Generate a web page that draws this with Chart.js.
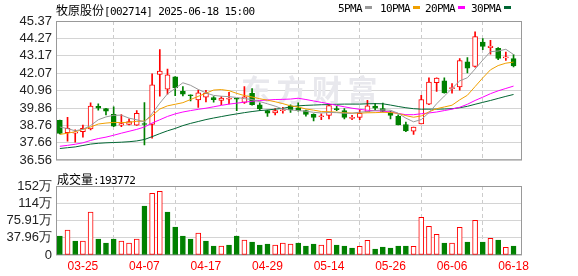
<!DOCTYPE html>
<html>
<head>
<meta charset="utf-8">
<script src="https://cdn.jsdelivr.net/npm/chart.js@4.4.1/dist/chart.umd.min.js"></script>
<style>
  body { margin: 0; background: #fff; }
  #wrap { position: relative; width: 578px; height: 276px; overflow: hidden; background: #fff; }
  canvas { position: absolute; left: 0; }
  .t { position: absolute; white-space: nowrap; font: 11px "DejaVu Sans Mono"; letter-spacing: -0.6px; color: #000; line-height: 14px; }
  .cj { font: 12px "Noto Sans CJK SC"; letter-spacing: 0; }
  .sw { display: inline-block; width: 7px; height: 3px; vertical-align: 3px; margin-left: 3px; }
</style>
</head>
<body>
<div id="wrap">
  <canvas id="priceChart" width="578" height="172" style="top:0"></canvas>
  <canvas id="volChart" width="578" height="104" style="top:172px"></canvas>
  <div class="t" style="left:56px;top:1px"><span class="cj">牧原股份</span>[002714] 2025-06-18 15:00</div>
  <div class="t" style="left:338px;top:2px">5PMA<span class="sw" style="background:#999999"></span></div>
  <div class="t" style="left:380px;top:2px">10PMA<span class="sw" style="background:#f0a000"></span></div>
  <div class="t" style="left:425px;top:2px">20PMA<span class="sw" style="background:#ff00ff"></span></div>
  <div class="t" style="left:471px;top:2px">30PMA<span class="sw" style="background:#006633"></span></div>
  <div class="t" style="left:57px;top:170px"><span class="cj">成交量</span>:193772</div>
</div>
<script>
// trading days shown on the chart
var dates = ['03-20','03-21','03-24','03-25','03-26','03-27','03-28','03-31','04-01','04-02',
  '04-03','04-07','04-08','04-09','04-10','04-11','04-14','04-15','04-16','04-17',
  '04-18','04-21','04-22','04-23','04-24','04-25','04-28','04-29','04-30','05-06',
  '05-07','05-08','05-09','05-12','05-13','05-14','05-15','05-16','05-19','05-20',
  '05-21','05-22','05-23','05-26','05-27','05-28','05-29','05-30','06-03','06-04',
  '06-05','06-06','06-09','06-10','06-11','06-12','06-13','06-16','06-17','06-18'];

var openP = [39.09,38.30,38.27,38.36,38.54,39.97,39.82,39.47,38.78,38.83,
  38.77,38.88,38.83,41.99,41.06,41.83,40.92,40.68,40.37,40.55,
  40.53,40.34,40.42,40.46,40.22,40.80,40.07,39.70,39.55,39.69,
  40.00,39.88,39.70,39.46,39.31,39.40,39.80,39.70,39.21,39.27,
  39.62,39.99,39.82,39.62,39.33,38.82,38.40,38.86,40.10,41.47,
  41.58,41.09,41.19,42.79,42.49,44.03,43.68,43.64,43.04,42.99];
var highP = [39.10,39.27,38.48,38.79,40.19,40.13,39.84,39.94,39.44,39.18,
  39.70,40.21,42.02,43.56,42.32,41.86,41.22,40.69,41.00,40.98,
  40.58,40.58,40.85,40.47,41.22,41.10,40.19,39.73,39.82,39.91,
  40.07,40.19,39.73,39.49,39.49,40.10,39.97,39.82,39.40,39.76,
  40.35,40.16,40.17,39.67,39.43,38.97,38.66,40.66,41.77,41.78,
  41.77,41.41,42.99,43.05,44.68,44.25,44.15,43.69,43.40,43.24];
var lowP = [38.22,37.77,37.70,38.02,38.48,39.73,39.43,38.68,38.69,38.79,
  38.76,37.52,37.95,40.61,40.74,40.65,40.63,40.31,39.90,40.25,
  40.23,40.07,40.12,39.70,40.16,40.04,39.70,39.33,39.43,39.53,
  39.58,39.67,39.35,39.05,39.12,39.18,39.70,39.17,39.12,39.12,
  39.61,39.70,39.61,39.17,38.79,38.36,38.19,38.85,40.08,40.92,
  40.80,40.80,41.00,42.08,42.45,43.56,43.27,42.93,42.87,42.47];
var closeP = [38.25,38.58,38.30,38.57,39.99,39.85,39.66,38.72,38.88,39.01,
  39.52,38.82,41.33,42.20,41.96,41.13,40.74,40.64,40.82,40.80,
  40.39,40.49,40.46,40.42,40.57,40.07,39.80,39.53,39.70,39.72,
  39.74,39.70,39.46,39.27,39.35,40.01,39.76,39.27,39.24,39.52,
  40.00,39.85,39.64,39.40,38.80,38.42,38.65,40.40,41.51,41.76,
  40.82,41.13,42.87,42.38,44.38,43.76,43.78,43.00,43.08,42.53];

var ma5 = [38.66,38.56,38.42,38.52,38.75,39.12,39.30,39.40,39.41,39.22,
  39.12,38.98,39.51,40.17,40.76,41.10,41.46,41.30,41.04,40.82,
  40.66,40.61,40.58,40.53,40.46,40.40,40.27,40.13,39.98,39.80,
  39.74,39.70,39.66,39.59,39.55,39.58,39.57,39.53,39.53,39.60,
  39.64,39.70,39.75,39.72,39.53,39.22,38.99,39.13,39.57,40.13,
  40.62,41.10,41.58,41.78,42.33,42.90,43.43,43.47,43.58,43.25];
var ma10 = [38.19,38.27,38.36,38.51,38.66,38.85,38.91,38.95,38.94,38.96,
  39.02,39.04,39.38,39.80,40.00,40.10,40.20,40.40,40.60,40.80,
  41.00,41.03,40.96,40.79,40.65,40.56,40.45,40.36,40.26,40.14,
  40.00,39.93,39.80,39.73,39.64,39.63,39.60,39.57,39.54,39.54,
  39.56,39.57,39.59,39.58,39.52,39.38,39.28,39.36,39.62,39.82,
  39.93,40.04,40.38,40.67,41.22,41.77,42.28,42.55,42.70,42.77];
var ma20 = [37.44,37.50,37.57,37.66,37.81,37.93,38.02,38.14,38.27,38.39,
  38.51,38.66,38.91,39.12,39.33,39.49,39.61,39.70,39.78,39.85,
  39.94,40.03,40.11,40.17,40.23,40.29,40.34,40.37,40.40,40.41,
  40.43,40.48,40.40,40.31,40.22,40.13,40.03,39.94,39.85,39.78,
  39.72,39.69,39.67,39.61,39.52,39.44,39.44,39.50,39.55,39.61,
  39.70,39.79,39.91,40.10,40.34,40.55,40.77,40.95,41.10,41.25];
var ma30 = [37.30,37.35,37.40,37.49,37.58,37.63,37.66,37.68,37.70,37.73,
  37.78,37.87,38.05,38.24,38.42,38.57,38.75,38.89,39.01,39.13,
  39.23,39.32,39.41,39.49,39.57,39.64,39.70,39.74,39.79,39.84,
  39.94,40.00,40.03,40.05,40.07,40.08,40.10,40.11,40.11,40.11,
  40.13,40.14,40.13,40.05,39.96,39.88,39.82,39.79,39.79,39.79,
  39.80,39.82,39.88,39.97,40.10,40.22,40.34,40.47,40.60,40.72];

// volume in 万手
var volume = [41.8,55,30.8,30.8,94.6,35.2,26.4,35.2,30.8,26.4,
  35.2,107.8,135.7,140,94.6,61.6,41.8,35.2,48.4,30.8,
  19.8,19.8,22,41.8,33,28.6,22,24.2,22,26.4,
  24.2,26.4,19.8,24.2,22,34.5,22,19.8,15.4,19,
  32.3,13.2,17.6,15.4,19.8,19.8,19,83,63,45.5,
  26.4,26.4,61,28.6,76.3,28.6,36.7,33,17,19.38];

var priceTicks = [36.56, 37.66, 38.76, 39.86, 40.96, 42.07, 43.17, 44.27, 45.37];
var volTicks = [0, 37.96, 75.92, 113.88, 151.84];
var volLabels = ['0', '37.96万', '75.91万', '114万', '152万'];
var dateTickIdx = [3, 11, 19, 27, 35, 43, 51, 59];

var RED = '#ff0000', GREEN = '#008000';

var candleUp = openP.map(function(o, i) { return closeP[i] >= o; });
var volUp = closeP.map(function(c, i) { return i === 0 ? candleUp[0] : c >= closeP[i - 1]; });

// plot frame
var framePlugin = {
  id: 'frame',
  beforeDatasetsDraw: function(chart) {
    var a = chart.chartArea, ctx = chart.ctx;
    ctx.save();
    ctx.strokeStyle = '#999';
    ctx.lineWidth = 1;
    ctx.strokeRect(a.left + 0.5, a.top + 0.5, a.right - a.left - 1, a.bottom - a.top - 1);
    ctx.restore();
  }
};

// faint watermark behind the candles
var watermarkPlugin = {
  id: 'watermark',
  beforeDatasetsDraw: function(chart) {
    var ctx = chart.ctx;
    ctx.save();
    ctx.fillStyle = '#e8e8ed';
    ctx.font = 'bold 30px "Noto Sans CJK SC"';
    ctx.textBaseline = 'middle';
    ['东', '方', '财', '富'].forEach(function(ch, k) {
      ctx.fillText(ch, 241 + k * 35.5, 90);
    });
    ctx.restore();
  }
};

function maLine(arr, color) {
  return {
    type: 'line',
    data: arr.map(function(v, i) { return {x: i, y: v}; }),
    borderColor: color,
    borderWidth: 1,
    pointRadius: 0,
    fill: false,
    tension: 0
  };
}

function xScale(showLabels, height) {
  return {
    type: 'linear',
    min: -0.5,
    max: 60.1,
    offset: false,
    afterBuildTicks: function(s) { s.ticks = dateTickIdx.map(function(v) { return {value: v}; }); },
    afterFit: function(s) { s.height = height; },
    grid: { color: '#cccccc', drawTicks: false, borderDash: [4, 3] },
    border: { display: false, dash: [4, 3] },
    ticks: {
      display: showLabels,
      autoSkip: false,
      maxRotation: 0,
      padding: 4,
      color: RED,
      font: { family: 'Liberation Sans', size: 12 },
      callback: function(v) { return dates[v]; }
    }
  };
}

function yScale(min, max, tickVals, labelFn) {
  return {
    type: 'linear',
    min: min,
    max: max,
    afterBuildTicks: function(s) { s.ticks = tickVals.map(function(v) { return {value: v}; }); },
    afterFit: function(s) { s.width = 56; },
    grid: { color: '#d4d4d4', drawTicks: false },
    border: { display: false },
    ticks: {
      autoSkip: false,
      padding: 4,
      color: '#222',
      font: { family: 'Liberation Sans', size: 13 },
      callback: labelFn
    }
  };
}

new Chart(document.getElementById('priceChart'), {
  type: 'bar',
  data: {
    datasets: [
      maLine(ma5, '#999999'),
      maLine(ma10, '#f0a000'),
      maLine(ma20, '#ff00ff'),
      maLine(ma30, '#006633'),
      {
        type: 'bar',
        data: openP.map(function(o, i) { return {x: i, y: [Math.min(o, closeP[i]), Math.max(o, closeP[i])]}; }),
        grouped: false,
        barThickness: 5,
        minBarLength: 1,
        borderWidth: 1,
        borderSkipped: false,
        backgroundColor: candleUp.map(function(u) { return u ? '#ffffff' : GREEN; }),
        borderColor: candleUp.map(function(u) { return u ? RED : GREEN; })
      },
      {
        type: 'bar',
        data: lowP.map(function(l, i) { return {x: i, y: [l, highP[i]]}; }),
        grouped: false,
        barThickness: 1,
        borderWidth: 0,
        backgroundColor: candleUp.map(function(u) { return u ? RED : GREEN; })
      }
    ]
  },
  options: {
    responsive: false,
    animation: false,
    devicePixelRatio: 1,
    layout: { padding: { top: 21, right: 56, bottom: 7, left: 0 } },
    plugins: { legend: { display: false }, tooltip: { enabled: false } },
    scales: {
      x: xScale(false, 0),
      y: yScale(36.56, 45.37, priceTicks, function(v) { return v.toFixed(2); })
    }
  },
  plugins: [framePlugin, watermarkPlugin]
});

new Chart(document.getElementById('volChart'), {
  type: 'bar',
  data: {
    datasets: [{
      data: volume.map(function(v, i) { return {x: i, y: v}; }),
      grouped: false,
      barThickness: 5,
      borderWidth: 1,
      borderSkipped: false,
      backgroundColor: volUp.map(function(u) { return u ? '#ffffff' : GREEN; }),
      borderColor: volUp.map(function(u) { return u ? RED : GREEN; })
    }]
  },
  options: {
    responsive: false,
    animation: false,
    devicePixelRatio: 1,
    layout: { padding: { top: 14, right: 56, bottom: 0, left: 0 } },
    plugins: { legend: { display: false }, tooltip: { enabled: false } },
    scales: {
      x: xScale(true, 21),
      y: yScale(0, 151.84, volTicks, function(v, idx) { return volLabels[idx]; })
    }
  },
  plugins: [framePlugin]
});
</script>
</body>
</html>
